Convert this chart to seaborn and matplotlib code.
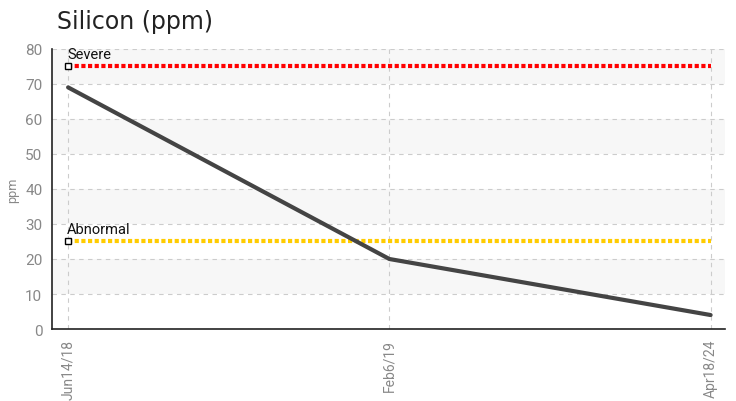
import pandas as pd
import matplotlib.pyplot as plt
import seaborn as sns

dates = ["Jun14/18", "Feb6/19", "Apr18/24"]
silicon = [69, 20, 4]
limit_names = ["Severe", "Abnormal"]
limit_values = [75, 25]
limit_colors = ["#ff0000", "#ffcc00"]

sns.set_style("white")
plt.rcParams['font.family'] = ['DejaVu Sans']
narrow = ['Liberation Sans Narrow', 'Roboto', 'DejaVu Sans']

df = pd.DataFrame({'date': dates, 'ppm': silicon})

fig = plt.figure(figsize=(7.36, 4.02), dpi=100)
ax = fig.add_axes([0.0707, 0.179, 0.914, 0.697])

# alternating background bands
for lo in range(10, 80, 20):
    ax.axhspan(lo, lo + 10, color='#f7f7f7', zorder=0, lw=0)

for name, val, col in zip(limit_names, limit_values, limit_colors):
    lim = pd.DataFrame({'date': dates, 'ppm': [val] * len(dates)})
    sns.lineplot(data=lim, x='date', y='ppm', color=col, lw=3,
                 linestyle=(0, (1, 0.6)), ax=ax, zorder=3)
    ax.plot([0], [val], marker='s', ms=5, mfc='white', mec='black',
            mew=1, zorder=5)
    ax.text(-0.003, val + 1.6, name, fontsize=10.5, color='#111111',
            family=narrow, ha='left', va='bottom', zorder=6)

sns.lineplot(data=df, x='date', y='ppm', color='#444444', lw=3, ax=ax,
             zorder=4)

ax.set_xlim(-0.05, 2.044)
ax.set_ylim(0, 80)
ax.set_yticks(range(0, 81, 10))
ax.grid(True, color='#cccccc', linestyle=(0, (4, 4)), lw=0.8)
ax.set_axisbelow(True)

for s in ['top', 'right']:
    ax.spines[s].set_visible(False)
for s in ['left', 'bottom']:
    ax.spines[s].set_color('#222222')
    ax.spines[s].set_linewidth(1.2)

ax.tick_params(axis='both', direction='inout', length=7, width=1.2,
               color='#222222', labelcolor='#888888', labelsize=11)
ax.tick_params(axis='x', rotation=90, labelsize=10)
for lbl in ax.get_xticklabels() + ax.get_yticklabels():
    lbl.set_family(narrow)

ax.set_xlabel('')
ax.set_ylabel('ppm', color='#888888', fontsize=9, family=narrow)
fig.text(0.077, 0.945, 'Silicon (ppm)', fontsize=17, color='#222222',
         va='center')

fig.savefig('out.png', dpi=100)
